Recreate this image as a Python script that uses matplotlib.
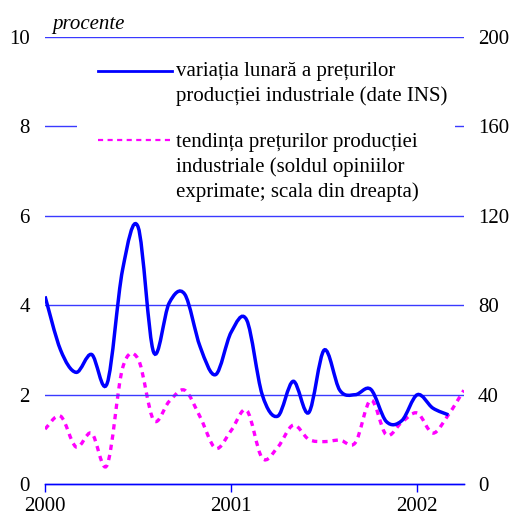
import matplotlib
matplotlib.use("Agg")
import matplotlib.pyplot as plt
from matplotlib.path import Path
from matplotlib.patches import PathPatch, Rectangle
from matplotlib.lines import Line2D
import numpy as np

plt.rcParams['font.family'] = ['Liberation Serif', 'DejaVu Serif']

# months since Jan 2000
variatie_lunara = [4.2, 3.0, 2.5, 2.9, 2.25, 4.8, 5.75, 2.95, 4.05, 4.25,
                   3.07, 2.45, 3.4, 3.67, 2.0, 1.52, 2.3, 1.6, 3.0, 2.1,
                   2.0, 2.12, 1.4, 1.42, 2.0, 1.7, 1.55]
tendinta = [24.6, 30.4, 16.6, 22.8, 8.5, 52, 56, 28.6, 37, 42,
            30, 16, 24, 33, 11.6, 16.5, 26.4, 20, 19, 19.7,
            18.5, 37.6, 22, 27.7, 31.8, 22.8, 31, 42]
ani = ['2000', '2001', '2002']
ani_poz = [0, 12, 24]
left_ticks = [0, 2, 4, 6, 8, 10]
right_ticks = [0, 40, 80, 120, 160, 200]
labels = ['variația lunară a prețurilor\nproducției industriale (date INS)',
          'tendința prețurilor producției\nindustriale (soldul opiniilor\nexprimate; scala din dreapta)']

BLUE = '#0000FF'
GRID = '#3a3aff'
MAG = '#FF00FF'
FS = 15
DOT = (0, (1.6, 1.5))

def smooth_path(y):
    x = np.arange(len(y), dtype=float)
    y = np.asarray(y, dtype=float)
    verts = [(x[0], y[0])]
    codes = [Path.MOVETO]
    n = len(y)
    for i in range(n - 1):
        p0 = (x[max(i - 1, 0)], y[max(i - 1, 0)])
        p1 = (x[i], y[i])
        p2 = (x[i + 1], y[i + 1])
        p3 = (x[min(i + 2, n - 1)], y[min(i + 2, n - 1)])
        c1 = (p1[0] + (p2[0] - p0[0]) / 6, p1[1] + (p2[1] - p0[1]) / 6)
        c2 = (p2[0] - (p3[0] - p1[0]) / 6, p2[1] - (p3[1] - p1[1]) / 6)
        verts += [c1, c2, p2]
        codes += [Path.CURVE4] * 3
    return Path(verts, codes)

fig = plt.figure(figsize=(5.12, 5.15), dpi=100)
ax = fig.add_axes([0.088, 0.06, 0.818, 0.868])
ax2 = ax.twinx()

ax.set_xlim(0, 27)
ax.set_ylim(0, 10)
ax2.set_ylim(0, 200)

for v in left_ticks[1:]:
    ax.axhline(v, color=GRID, lw=1.0, zorder=1)

ax2.add_patch(PathPatch(smooth_path(tendinta), fill=False, edgecolor=MAG,
                        lw=2.4, linestyle=DOT, capstyle='butt', zorder=3))
ax.add_patch(PathPatch(smooth_path(variatie_lunara), fill=False, edgecolor=BLUE,
                       lw=2.5, zorder=4))
ax.set_zorder(ax2.get_zorder() + 1)
ax.patch.set_visible(False)

for a in (ax, ax2):
    for s in ('top', 'left', 'right'):
        a.spines[s].set_visible(False)
    a.spines['bottom'].set_color(BLUE)
    a.spines['bottom'].set_linewidth(1.0)

ax.set_xticks(ani_poz)
ax.set_xticklabels(ani)
ax.tick_params(axis='x', colors=BLUE, length=6, width=1.0, labelsize=FS,
               labelcolor='black', pad=3)
ax.set_yticks(left_ticks)
ax.set_yticklabels([str(v) for v in left_ticks])
ax.tick_params(axis='y', length=0, labelsize=FS, pad=11)
ax2.set_yticks(right_ticks)
ax2.set_yticklabels([str(v) for v in right_ticks])
ax2.tick_params(axis='y', length=0, labelsize=FS, pad=10)
ax2.tick_params(axis='x', length=0)

ax.text(0.017, 1.008, 'procente', transform=ax.transAxes, style='italic',
        fontsize=FS, ha='left', va='bottom')

# legend (manual, handles aligned with first text line)
ax.add_patch(Rectangle((0.076, 0.624), 0.903, 0.336, transform=ax.transAxes,
                       facecolor='white', edgecolor='none', zorder=5))
ax.add_line(Line2D([0.126, 0.303], [0.924, 0.924], transform=ax.transAxes,
                   color=BLUE, lw=2.0, zorder=6))
ax.add_line(Line2D([0.126, 0.303], [0.770, 0.770], transform=ax.transAxes,
                   color=MAG, lw=1.6, linestyle=(0, (2.3, 2.0)),
                   dash_capstyle='butt', zorder=6))
ax.text(0.313, 0.944, labels[0], transform=ax.transAxes, fontsize=FS,
        ha='left', va='top', linespacing=1.375, zorder=7)
ax.text(0.313, 0.786, labels[1], transform=ax.transAxes, fontsize=FS,
        ha='left', va='top', linespacing=1.375, zorder=7)

fig.savefig('out.png', dpi=100)
